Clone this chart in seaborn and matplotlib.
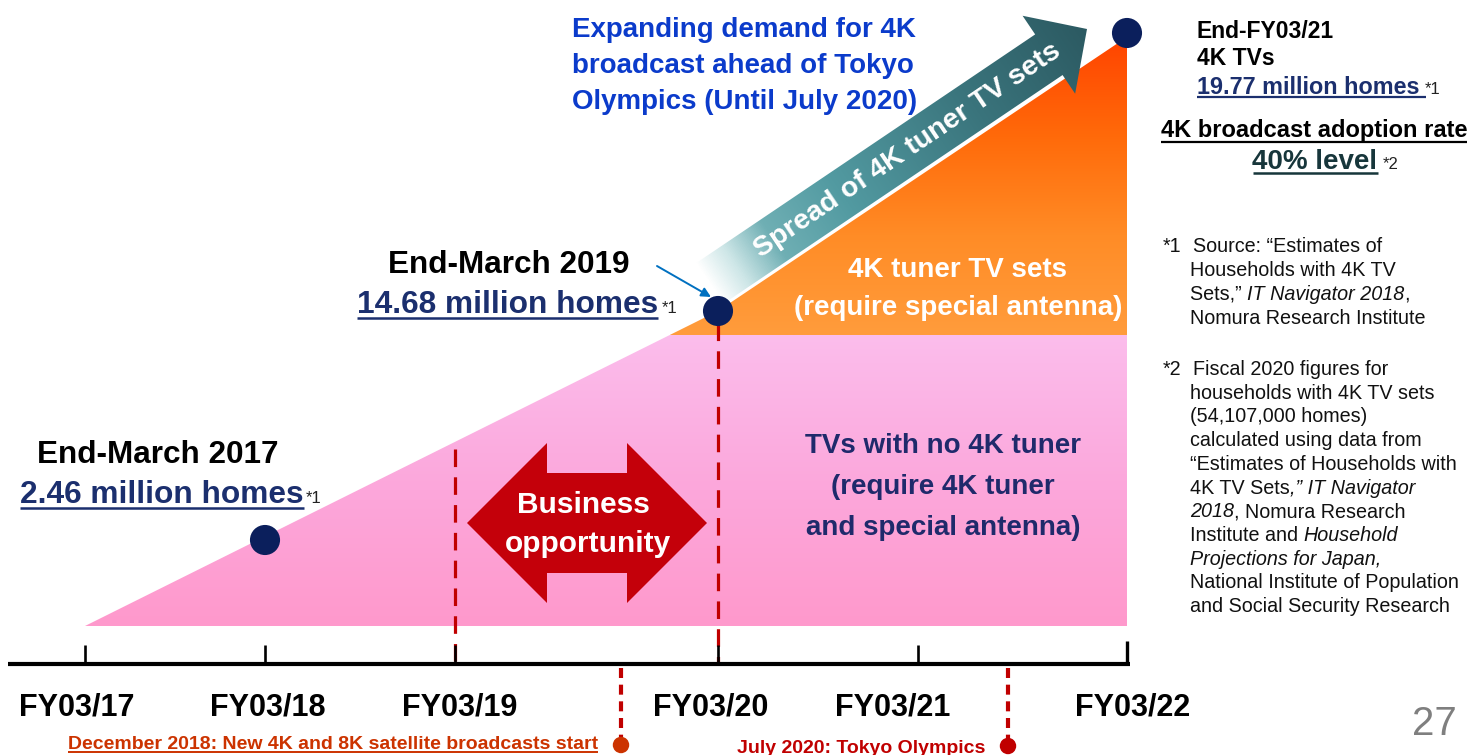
import numpy as np
import matplotlib
matplotlib.use("Agg")
import matplotlib.pyplot as plt
from matplotlib.colors import LinearSegmentedColormap
from matplotlib.patches import Polygon
import seaborn as sns

# ---- data (schematic timeline, pixel-like units of the slide) ----
fy_labels = ["FY03/17", "FY03/18", "FY03/19", "FY03/20", "FY03/21", "FY03/22"]
fy_ticks = [85, 265, 455, 718, 918, 1127]
fy_label_x = [77, 268, 460, 711, 893, 1133]

# adoption curve (start, End-March 2019, End-FY03/21)
curve_x = [85, 718, 1127]
curve_y = [626, 311, 33]
tuner_level = 335

milestone_x = [265, 718, 1127]
milestone_y = [540, 311, 33]
milestone_names = ["End-March 2017", "End-March 2019", "End-FY03/21"]
milestone_homes = [2.46, 14.68, 19.77]

opportunity_bounds = [455, 718]

event_labels = ["December 2018: New 4K and 8K satellite broadcasts start",
                "July 2020: Tokyo Olympics"]
event_x = [621, 1008]
event_colors = ["#CC3300", "#C00000"]

NAVY = "#1B2F6E"
DOT = "#0B1F5C"
RED = "#C00000"

sns.set_theme(style="white")
plt.rcParams["font.family"] = ["Liberation Sans", "DejaVu Sans"]

fig = plt.figure(figsize=(14.82, 7.55), dpi=100)
ax = fig.add_axes([0, 0, 1, 1])
ax.set_xlim(0, 1482)
ax.set_ylim(755, 0)
ax.set_autoscale_on(False)
ax.axis("off")
renderer = fig.canvas.get_renderer()


def vfill(xy, colors, z):
    xy = np.asarray(xy, dtype=float)
    x0, x1 = xy[:, 0].min(), xy[:, 0].max()
    y0, y1 = xy[:, 1].min(), xy[:, 1].max()
    patch = Polygon(xy, closed=True, facecolor="none", edgecolor="none")
    ax.add_patch(patch)
    cmap = LinearSegmentedColormap.from_list("g", colors)
    grad = np.linspace(0, 1, 256).reshape(-1, 1)
    im = ax.imshow(grad, extent=(x0, x1, y1, y0), cmap=cmap, aspect="auto",
                   origin="upper", zorder=z, interpolation="bilinear")
    im.set_clip_path(patch)


def xspan(t):
    # text extent in data x (axes is 1 px = 1 unit)
    bb = t.get_window_extent(renderer)
    inv = ax.transData.inverted()
    (x0, _), (x1, _) = inv.transform([[bb.x0, bb.y0], [bb.x1, bb.y1]])
    return x0, x1


def underline(t, y, color, lw=2.0, extra=0):
    x0, x1 = xspan(t)
    ax.plot([x0, x1 + extra], [y, y], color=color, lw=lw,
            solid_capstyle="butt", zorder=6)


def seg_line(x, y, parts, size=14.2, color="#111111"):
    for txt, style in parts:
        t = ax.text(x, y, txt, fontsize=size, style=style, color=color,
                    va="baseline", ha="left")
        x = xspan(t)[1]


# ---- pink area (TVs without 4K tuner) ----
slope = (curve_y[1] - curve_y[0]) / (curve_x[1] - curve_x[0])
x_cross = curve_x[0] + (tuner_level - curve_y[0]) / slope
pink = [(curve_x[0], curve_y[0]), (x_cross, tuner_level), (curve_x[2], tuner_level),
        (curve_x[2], curve_y[0])]
vfill(pink, ["#FBBDEC", "#FCA8DC", "#FF99CC"], 1)

# ---- orange area (4K tuner TV sets) ----
orange = [(x_cross, tuner_level), (curve_x[1], curve_y[1]), (curve_x[2], curve_y[2] + 4),
          (curve_x[2], tuner_level)]
vfill(orange, ["#FF4400", "#FF6A0A", "#FF8C26", "#FF9C3C"], 2)

# ---- gradient arrow "Spread of 4K tuner TV sets" ----
ang = np.deg2rad(34)
d = np.array([np.cos(ang), -np.sin(ang)])
n = np.array([np.sin(ang), np.cos(ang)])
tip = np.array([1087.0, 29.0])
base = tip - 46 * d
tail = base - 410 * d
arrow_pts = np.array([tail - 24.5 * n, base - 24.5 * n, base - 47 * n, tip,
                      base + 47 * n, base + 24.5 * n, tail + 24.5 * n])
apatch = Polygon(arrow_pts, closed=True, facecolor="none", edgecolor="none")
ax.add_patch(apatch)
ax0, ax1 = arrow_pts[:, 0].min(), arrow_pts[:, 0].max()
ay0, ay1 = arrow_pts[:, 1].min(), arrow_pts[:, 1].max()
X, Y = np.meshgrid(np.linspace(ax0, ax1, 500), np.linspace(ay0, ay1, 400))
s = ((X - tail[0]) * d[0] + (Y - tail[1]) * d[1]) / 456.0
acmap = LinearSegmentedColormap.from_list(
    "a", [(0, "#FFFFFF"), (0.07, "#CDE6E7"), (0.17, "#6FAFB4"),
          (0.35, "#529AA1"), (0.7, "#3A747C"), (1, "#2C5A62")])
im = ax.imshow(np.clip(s, 0, 1), extent=(ax0, ax1, ay1, ay0), cmap=acmap,
               aspect="auto", origin="upper", zorder=3, vmin=0, vmax=1)
im.set_clip_path(apatch)
mid = tail + 239 * d
ax.text(mid[0], mid[1], "Spread of 4K tuner TV sets", fontsize=20.5,
        fontweight="bold", color="white", rotation=34, rotation_mode="anchor",
        ha="center", va="center", zorder=4)

# ---- dashed boundaries of business opportunity ----
ax.vlines(opportunity_bounds[0], 449, 662, color=RED, lw=2.3,
          linestyles=(0, (5.5, 3.2)), zorder=4)
ax.vlines(opportunity_bounds[1], 323, 662, color=RED, lw=2.3,
          linestyles=(0, (5.5, 3.2)), zorder=4)

# ---- double-headed arrow ----
l, r = opportunity_bounds[0] + 12, opportunity_bounds[1] - 11
cy = 523
hl, hw, sw = 80, 80, 50
dbl = [(l, cy), (l + hl, cy - hw), (l + hl, cy - sw), (r - hl, cy - sw),
       (r - hl, cy - hw), (r, cy), (r - hl, cy + hw), (r - hl, cy + sw),
       (l + hl, cy + sw), (l + hl, cy + hw)]
ax.add_patch(Polygon(dbl, closed=True, facecolor="#C4000A", edgecolor="none", zorder=4))
cx = (l + r) / 2
ax.text(cx - 4, 513, "Business", fontsize=21.5, fontweight="bold", color="white",
        ha="center", va="baseline", zorder=5)
ax.text(cx + 1, 552, "opportunity", fontsize=21.5, fontweight="bold", color="white",
        ha="center", va="baseline", zorder=5)

# ---- milestone dots ----
sns.scatterplot(x=milestone_x, y=milestone_y, s=470, color=DOT, edgecolor="none",
                ax=ax, zorder=6, legend=False)

# ---- timeline ----
ax.plot([8, 1130], [664, 664], color="black", lw=3.0, solid_capstyle="butt", zorder=5)
ax.vlines(fy_ticks[:-1], 645, 664, color="black", lw=1.9, zorder=5)
ax.vlines(fy_ticks[-1], 641, 664, color="black", lw=2.4, zorder=5)
for lab, x in zip(fy_labels, fy_label_x):
    ax.text(x, 715, lab, fontsize=22, fontweight="bold", color="black",
            ha="center", va="baseline")

# ---- events below the timeline ----
for lab, x, c, ty in zip(event_labels, event_x, event_colors, [749, 753]):
    ax.vlines(x, 668, 740, color=RED, lw=3.0, linestyles=(0, (2.4, 1.6)), zorder=4)
    t = ax.text(x - 23, ty, lab, fontsize=14, fontweight="bold", color=c,
                ha="right", va="baseline")
    if x == event_x[0]:
        underline(t, 752, c, lw=1.4)
sns.scatterplot(x=event_x, y=[745, 746], hue=event_labels, palette=event_colors,
                s=140, edgecolor="none", ax=ax, zorder=6, legend=False)

# ---- milestone labels ----
ax.text(158, 463, milestone_names[0], fontsize=22.7, fontweight="bold",
        color="black", ha="center", va="baseline")
t = ax.text(20, 503, f"{milestone_homes[0]:.2f} million homes", fontsize=22.8,
            fontweight="bold", color=NAVY, ha="left", va="baseline")
underline(t, 508, NAVY, lw=1.8)
ax.text(xspan(t)[1] + 2, 503, "*1", fontsize=12, color="#222222", va="baseline")

ax.text(509, 273, milestone_names[1], fontsize=22.7, fontweight="bold",
        color="black", ha="center", va="baseline")
t = ax.text(357, 313, f"{milestone_homes[1]:.2f} million homes", fontsize=22.8,
            fontweight="bold", color=NAVY, ha="left", va="baseline")
underline(t, 318, NAVY, lw=1.8)
ax.text(xspan(t)[1] + 4, 313, "*1", fontsize=12, color="#222222", va="baseline")
ax.annotate("", xy=(711, 297), xytext=(657, 266),
            arrowprops=dict(arrowstyle="-|>", color="#0070C0", lw=1.4,
                            mutation_scale=14, shrinkA=0, shrinkB=0), zorder=6)

for i, line in enumerate(["Expanding demand for 4K", "broadcast ahead of Tokyo",
                          "Olympics (Until July 2020)"]):
    ax.text(572, 37 + 36 * i, line, fontsize=20, fontweight="bold",
            color="#0B3BCB", ha="left", va="baseline")

ax.text(958, 277, "4K tuner TV sets", fontsize=20, fontweight="bold", color="white",
        ha="center", va="baseline", zorder=5)
ax.text(958, 315, "(require special antenna)", fontsize=20, fontweight="bold",
        color="white", ha="center", va="baseline", zorder=5)

for i, line in enumerate(["TVs with no 4K tuner", "(require 4K tuner",
                          "and special antenna)"]):
    ax.text(943, 453 + 41 * i, line, fontsize=20, fontweight="bold",
            color="#1F2A6B", ha="center", va="baseline", zorder=5)

# ---- right-hand summary ----
ax.text(1197, 38, milestone_names[2], fontsize=16.5, fontweight="bold",
        color="black", va="baseline")
ax.text(1197, 65, "4K TVs", fontsize=16.5, fontweight="bold", color="black",
        va="baseline")
t = ax.text(1197, 94, f"{milestone_homes[2]:.2f} million homes", fontsize=16.8,
            fontweight="bold", color=NAVY, va="baseline")
underline(t, 97, NAVY, lw=1.6, extra=6)
ax.text(1425, 94, "*1", fontsize=12, color="#222222", va="baseline")

t = ax.text(1314, 137, "4K broadcast adoption rate", fontsize=17, fontweight="bold",
            color="black", ha="center", va="baseline")
underline(t, 142, "black", lw=1.6)
t = ax.text(1315, 169, "40% level", fontsize=20, fontweight="bold",
            color="#17363B", ha="center", va="baseline")
underline(t, 173, "#17363B", lw=1.8)
ax.text(1383, 169, "*2", fontsize=12, color="#222222", va="baseline")

# ---- footnotes ----
fn1 = [
    [("Source: \u201cEstimates of", "normal")],
    [("Households with 4K TV", "normal")],
    [("Sets,\u201d ", "normal"), ("IT Navigator 2018", "italic"), (",", "normal")],
    [("Nomura Research Institute", "normal")],
]
ax.text(1163, 252, "*1", fontsize=14.2, color="#111111", va="baseline")
for i, parts in enumerate(fn1):
    seg_line(1193 if i == 0 else 1190, 252 + 24 * i, parts)

fn2 = [
    [("Fiscal 2020 figures for", "normal")],
    [("households with 4K TV sets", "normal")],
    [("(54,107,000 homes)", "normal")],
    [("calculated using data from", "normal")],
    [("\u201cEstimates of Households with", "normal")],
    [("4K TV Sets", "normal"), (",\u201d IT Navigator", "italic")],
    [("2018", "italic"), (", Nomura Research", "normal")],
    [("Institute and ", "normal"), ("Household", "italic")],
    [("Projections for Japan,", "italic")],
    [("National Institute of Population", "normal")],
    [("and Social Security Research", "normal")],
]
ax.text(1163, 375, "*2", fontsize=14.2, color="#111111", va="baseline")
for i, parts in enumerate(fn2):
    seg_line(1193 if i == 0 else 1190, 375 + 23.7 * i, parts)

ax.text(1434, 735, "27", fontsize=29, color="#7F7F7F", ha="center", va="baseline")

ax.set_xlim(0, 1482)
ax.set_ylim(755, 0)
fig.savefig("out.png", dpi=100)
